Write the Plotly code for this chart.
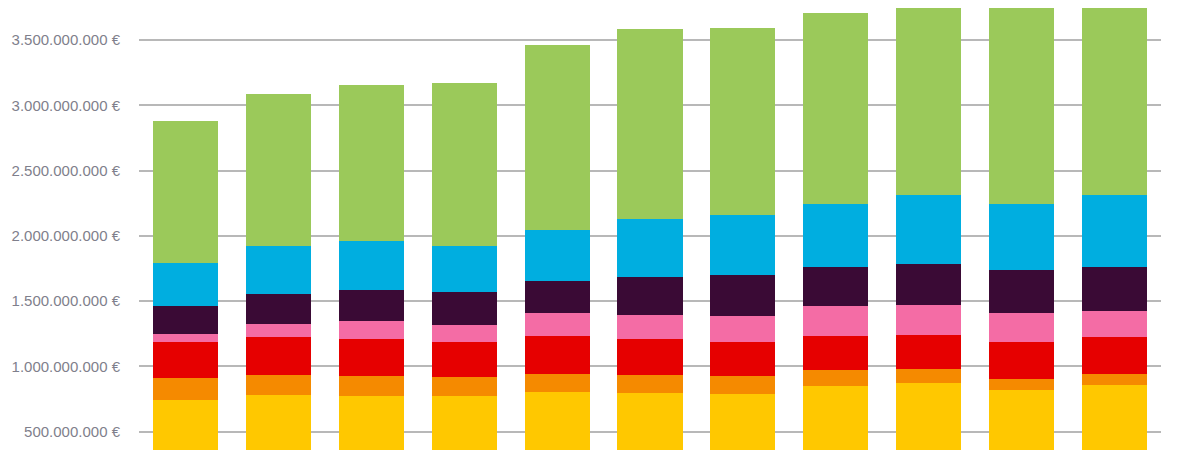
import plotly.graph_objects as go

categories = ["2008", "2009", "2010", "2011", "2012", "2013", "2014", "2015", "2016", "2017", "2018"]

yellow = [0.746, 0.778, 0.770, 0.770, 0.801, 0.796, 0.791, 0.852, 0.873, 0.816, 0.855]
orange = [0.169, 0.159, 0.159, 0.149, 0.143, 0.141, 0.133, 0.118, 0.107, 0.088, 0.089]
red = [0.269, 0.288, 0.281, 0.265, 0.291, 0.273, 0.260, 0.260, 0.258, 0.280, 0.281]
pink = [0.062, 0.097, 0.135, 0.136, 0.174, 0.186, 0.205, 0.230, 0.235, 0.225, 0.196]
purple = [0.215, 0.233, 0.243, 0.247, 0.248, 0.289, 0.314, 0.302, 0.314, 0.332, 0.341]
cyan = [0.331, 0.370, 0.375, 0.358, 0.390, 0.447, 0.459, 0.484, 0.528, 0.505, 0.553]
green = [1.084, 1.162, 1.195, 1.248, 1.417, 1.455, 1.433, 1.461, 1.448, 1.624, 1.635]

tick_vals = [500000000, 1000000000, 1500000000, 2000000000, 2500000000, 3000000000, 3500000000]
tick_text = ["500.000.000 €", "1.000.000.000 €", "1.500.000.000 €", "2.000.000.000 €",
             "2.500.000.000 €", "3.000.000.000 €", "3.500.000.000 €"]

series = [
    ("Serie 1", yellow, "#FFC800"),
    ("Serie 2", orange, "#F58A00"),
    ("Serie 3", red, "#E60000"),
    ("Serie 4", pink, "#F46CA5"),
    ("Serie 5", purple, "#3A0A35"),
    ("Serie 6", cyan, "#00AEE0"),
    ("Serie 7", green, "#9BC95A"),
]

fig = go.Figure()
for name, vals, color in series:
    fig.add_trace(go.Bar(
        x=categories,
        y=[v * 1e9 for v in vals],
        name=name,
        marker=dict(color=color, line=dict(width=0)),
    ))

fig.update_layout(
    barmode="stack",
    bargap=0.3,
    width=1184,
    height=450,
    margin=dict(l=131, r=31, t=0, b=0),
    paper_bgcolor="white",
    plot_bgcolor="white",
    showlegend=False,
    font=dict(family="Liberation Sans, Arial, sans-serif", size=15, color="#7F7F8C"),
)
fig.update_xaxes(showticklabels=False, showgrid=False, zeroline=False, showline=False,
                 range=[-0.5, 10.5])
fig.update_yaxes(range=[0.299e9, 3.745e9], tickvals=tick_vals, ticktext=tick_text,
                 showgrid=True, gridcolor="#B8B8B8", gridwidth=1.6, zeroline=False,
                 showline=False, ticklabelstandoff=18)

fig.write_html("out.html")
